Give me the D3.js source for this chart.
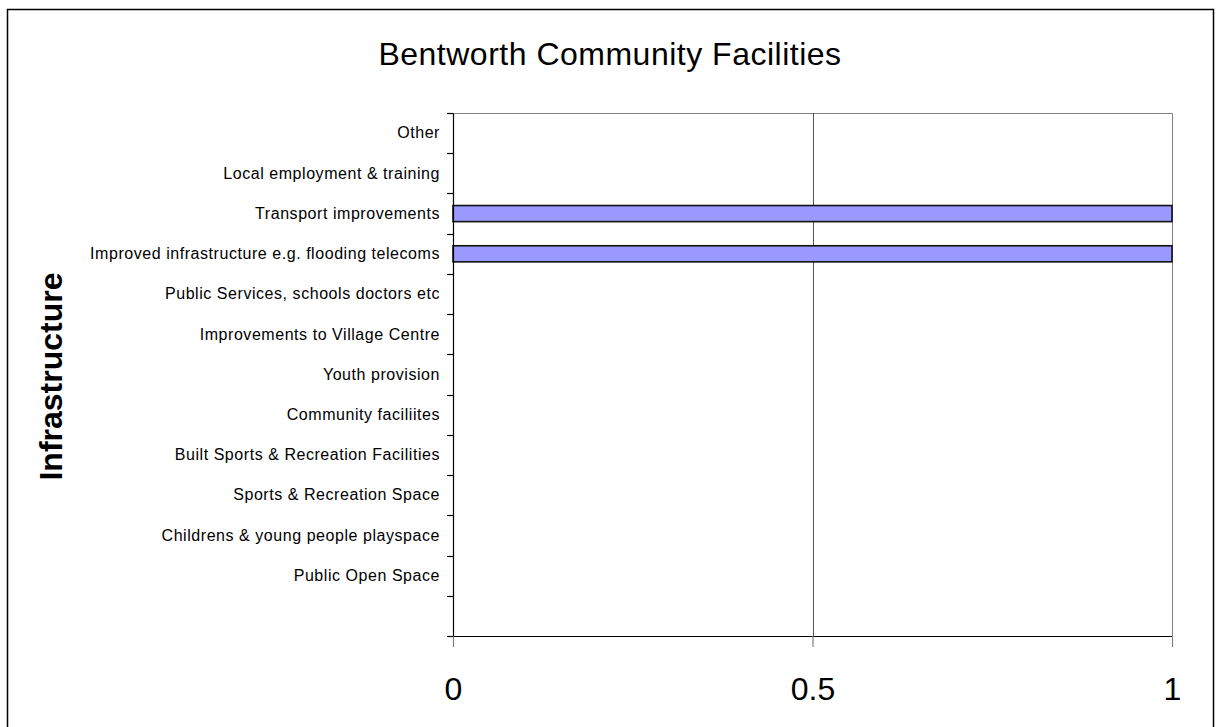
<!DOCTYPE html>
<html>
<head>
<meta charset="utf-8">
<script src="https://cdn.jsdelivr.net/npm/d3@7"></script>
<style>
  html, body { margin: 0; padding: 0; background: #fff; }
  svg { display: block; font-family: "Liberation Sans", Arial, sans-serif; }
</style>
</head>
<body>
<svg id="chart" width="1218" height="727"></svg>
<script>
// Categories, listed top to bottom (the last slot is an unlabeled spare row)
const categories = [
  "Other",
  "Local employment & training",
  "Transport improvements",
  "Improved infrastructure e.g. flooding telecoms",
  "Public Services, schools doctors etc",
  "Improvements to Village Centre",
  "Youth provision",
  "Community faciliites",
  "Built Sports & Recreation Facilities",
  "Sports & Recreation Space",
  "Childrens & young people playspace",
  "Public Open Space",
  ""
];
const values = [0, 0, 1, 1, 0, 0, 0, 0, 0, 0, 0, 0, 0];
const xTicks = [0, 0.5, 1];
const titleText = "Bentworth Community Facilities";
const yAxisTitle = "Infrastructure";

const svg = d3.select("#chart");
const plot = { left: 453, right: 1172, top: 113, bottom: 636 };

// Outer chart frame (its bottom edge runs past the canvas)
svg.append("rect")
  .attr("x", 7.5).attr("y", 9.5)
  .attr("width", 1206).attr("height", 740)
  .attr("fill", "#fff").attr("stroke", "#000").attr("stroke-width", 1.5);

const x = d3.scaleLinear().domain([0, 1]).range([plot.left, plot.right]);
const y = d3.scaleBand().domain(categories)
  .range([plot.top, plot.bottom])
  .paddingInner(0.6).paddingOuter(0.3);
const slots = d3.scaleBand().domain(categories)
  .range([plot.top, plot.bottom]).padding(0);

// Plot area frame (top and right edges)
svg.append("path")
  .attr("d", `M${plot.left},${plot.top + 0.5}H${plot.right + 0.5}V${plot.bottom}`)
  .attr("fill", "none").attr("stroke", "#808080").attr("stroke-width", 1);

// Vertical gridlines
svg.append("g").selectAll("line")
  .data(xTicks.filter(d => d > 0 && d < 1))
  .join("line")
  .attr("x1", d => Math.round(x(d)) + 0.5).attr("x2", d => Math.round(x(d)) + 0.5)
  .attr("y1", plot.top).attr("y2", plot.bottom)
  .attr("stroke", "#555").attr("stroke-width", 1);

// Bars
svg.append("g").selectAll("rect")
  .data(categories.map((c, i) => ({ c, v: values[i] })).filter(d => d.v > 0))
  .join("rect")
  .attr("x", x(0))
  .attr("y", d => y(d.c))
  .attr("width", d => x(d.v) - x(0))
  .attr("height", y.bandwidth())
  .attr("fill", "#9999FF")
  .attr("stroke", "#111")
  .attr("stroke-width", 1.6);

// X axis
const xAxis = svg.append("g")
  .attr("transform", `translate(0,${plot.bottom})`)
  .call(d3.axisBottom(x).tickValues(xTicks).tickSize(11).tickSizeOuter(0)
    .tickFormat(d => String(d)));
xAxis.select(".domain").attr("stroke", "#000").attr("stroke-width", 1.2);
xAxis.selectAll(".tick line").attr("stroke", "#808080").attr("stroke-width", 1.2);
xAxis.selectAll(".tick text")
  .attr("y", 64).attr("dy", 0)
  .attr("font-size", 32)
  .attr("fill", "#000");

// Y axis: labels centred in each row, ticks on row boundaries
const yAxis = svg.append("g")
  .attr("transform", `translate(${plot.left},0)`)
  .call(d3.axisLeft(y).tickSize(0).tickPadding(13));
yAxis.select(".domain").attr("stroke", "#000").attr("stroke-width", 1.2);
yAxis.selectAll(".tick text")
  .attr("font-size", 16)
  .attr("letter-spacing", 0.55)
  .attr("dy", "0.33em")
  .attr("fill", "#000");

const boundaries = categories.map(c => slots(c)).concat([plot.bottom]);
svg.append("g").selectAll("line")
  .data(boundaries)
  .join("line")
  .attr("x1", plot.left - 6).attr("x2", plot.left)
  .attr("y1", d => Math.round(d) + 0.5).attr("y2", d => Math.round(d) + 0.5)
  .attr("stroke", "#000").attr("stroke-width", 1.2);

// Title
svg.append("text")
  .attr("x", 610).attr("y", 65)
  .attr("text-anchor", "middle")
  .attr("font-size", 32)
  .attr("letter-spacing", 0.5)
  .attr("fill", "#000")
  .text(titleText);

// Y axis title
svg.append("text")
  .attr("transform", `translate(62,${(plot.top + plot.bottom) / 2 + 2}) rotate(-90)`)
  .attr("text-anchor", "middle")
  .attr("font-size", 32)
  .attr("font-weight", "bold")
  .attr("fill", "#000")
  .text(yAxisTitle);
</script>
</body>
</html>
